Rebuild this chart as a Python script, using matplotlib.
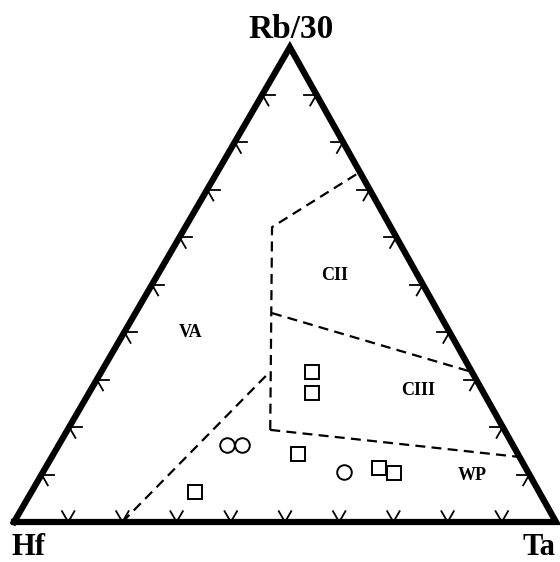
import numpy as np
import matplotlib
matplotlib.use('Agg')
import matplotlib.pyplot as plt

# ternary data as (Hf, Rb/30, Ta) fractions
sq_hf = [0.295, 0.317, 0.406, 0.270, 0.248, 0.635]
sq_rb = [0.316, 0.272, 0.143, 0.114, 0.103, 0.063]
sq_ta = [0.389, 0.411, 0.451, 0.616, 0.649, 0.302]

ci_hf = [0.527, 0.500, 0.340]
ci_rb = [0.162, 0.162, 0.105]
ci_ta = [0.311, 0.338, 0.555]

# field boundaries (dashed)
bounds = [
	[(0.800, 0.000, 0.200), (0.373, 0.316, 0.311)],
	[(0.432, 0.194, 0.374), (0.219, 0.621, 0.160), (0.000, 0.737, 0.263)],
	[(0.308, 0.440, 0.252), (0.000, 0.316, 0.684)],
	[(0.432, 0.194, 0.374), (0.000, 0.137, 0.863)],
]

field_names = ['VA', 'CII', 'CIII', 'WP']
field_pos = [(0.477, 0.400, 0.123), (0.154, 0.520, 0.326), (0.118, 0.278, 0.604), (0.106, 0.097, 0.797)]

tick_levels = [0.1, 0.2, 0.3, 0.4, 0.5, 0.6, 0.7, 0.8, 0.9]

# triangle corners in axes units (slightly skewed like the original)
A = np.array([0.0, 0.0])      # Hf
B = np.array([0.509, 0.876])  # Rb/30
C = np.array([1.0, 0.0])      # Ta

def tern(hf, rb, ta):
	hf = np.asarray(hf, float); rb = np.asarray(rb, float); ta = np.asarray(ta, float)
	s = hf + rb + ta
	x = (hf * A[0] + rb * B[0] + ta * C[0]) / s
	y = (hf * A[1] + rb * B[1] + ta * C[1]) / s
	return x, y

fig = plt.figure(figsize=(5.6, 5.62), dpi=100)
ax = fig.add_axes([14/560, 40/562, 542/560, 475/562])
ax.set_xlim(0, 1)
ax.set_ylim(0, 475/542)
ax.axis('off')

serif = ['Liberation Serif', 'DejaVu Serif']

# ticks
L = 0.023
def arm(x, y, ang):
	a = np.radians(ang)
	ax.plot([x, x + L*np.cos(a)], [y, y + L*np.sin(a)], color='black', lw=1.3, clip_on=False, zorder=3)

for t in tick_levels:
	x, y = tern(1 - t, 0, t)
	arm(x, y, 60); arm(x, y, 120)
	x, y = tern(1 - t, t, 0)
	arm(x, y, 0); arm(x, y, -60)
	x, y = tern(0, t, 1 - t)
	arm(x, y, 180); arm(x, y, 240)

# outline
ox, oy = tern([1, 0, 0, 1], [0, 1, 0, 0], [0, 0, 1, 0])
ax.plot(ox, oy, color='black', lw=4.5, solid_joinstyle='miter', clip_on=False, zorder=4)

for b in bounds:
	hf, rb, ta = zip(*b)
	x, y = tern(hf, rb, ta)
	ax.plot(x, y, color='black', lw=1.6, dashes=(4.5, 2.8), clip_on=False, zorder=2)

x, y = tern(sq_hf, sq_rb, sq_ta)
ax.plot(x, y, 's', ms=9.8, mfc='white', mec='black', mew=1.4, ls='none', zorder=5)
x, y = tern(ci_hf, ci_rb, ci_ta)
ax.plot(x, y, 'o', ms=10.5, mfc='white', mec='black', mew=1.4, ls='none', zorder=5)

for name, p in zip(field_names, field_pos):
	x, y = tern(*p)
	ax.text(x, y, name, ha='center', va='center', fontsize=13, fontweight='bold', family=serif)

fig.text(291/560, 1 - 38/562, 'Rb/30', ha='center', va='baseline', fontsize=24, fontweight='bold', family=serif)
fig.text(28/560, 1 - 555/562, 'Hf', ha='center', va='baseline', fontsize=22, fontweight='bold', family=serif)
fig.text(539/560, 1 - 555/562, 'Ta', ha='center', va='baseline', fontsize=22, fontweight='bold', family=serif)

fig.savefig('out.png', dpi=100, facecolor='white')
